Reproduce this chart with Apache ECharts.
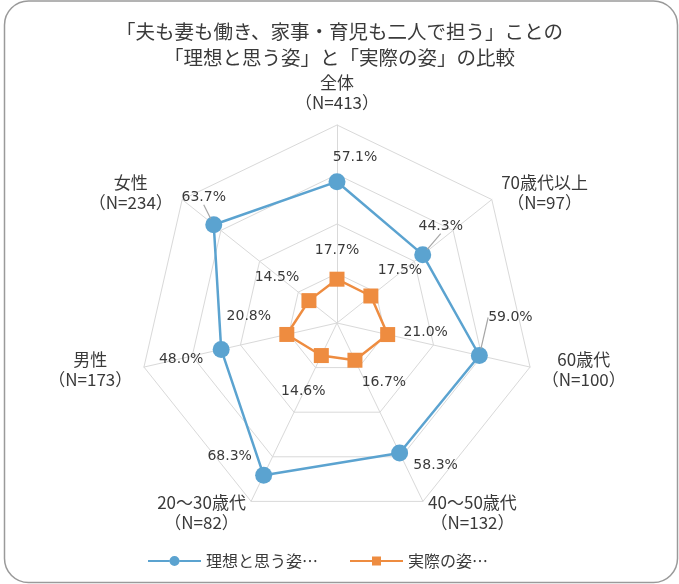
<!DOCTYPE html>
<html>
<head>
<meta charset="utf-8">
<script src="https://cdn.jsdelivr.net/npm/echarts@6/dist/echarts.min.js"></script>
<style>html,body{margin:0;padding:0;background:#fff;}#c{width:679px;height:584px;}</style>
</head>
<body>
<div id="c"></div>
<script>
// ---- data (clockwise from top) ----
const categories = ['全体\n（N=413）', '70歳代以上\n（N=97）', '60歳代\n（N=100）', '40～50歳代\n（N=132）', '20～30歳代\n（N=82）', '男性\n（N=173）', '女性\n（N=234）'];
const idealValues = [57.1, 44.3, 59.0, 58.3, 68.3, 48.0, 63.7];
const actualValues = [17.7, 17.5, 21.0, 16.7, 14.6, 20.8, 14.5];
const seriesNames = ['理想と思う姿…', '実際の姿…'];
const radarMax = 80;
const radarSplits = 4;
const titleText = '「夫も妻も働き、家事・育児も二人で担う」ことの\n「理想と思う姿」と「実際の姿」の比較';

// ---- styles ----
const blue = '#5BA3D0';
const orange = '#EE8C40';
const textColor = '#3a3a3a';
const center = [337, 323];
const radius = 198;
// label offsets (px) from each point, clockwise order
const idealLabelOffsets = [[18, -24], [18, -28], [31, -38], [36, 12], [-34, -19], [-40, 10], [-10, -27]];
const actualLabelOffsets = [[0, -29], [29, -26], [38, -2], [29, 22], [-18, 36], [-38, -18], [-32, -23]];
const idealLeader = [false, true, true, false, false, false, true];

// radar draws counter-clockwise: reorder so the picture reads clockwise
const ord = [0, 6, 5, 4, 3, 2, 1];

const chart = echarts.init(document.getElementById('c'));

function labelSeries(name, values, offsets, leaders) {
  return {
    name: name,
    type: 'scatter',
    coordinateSystem: 'polar',
    symbol: 'circle',
    symbolSize: 14,
    itemStyle: { color: 'rgba(0,0,0,0)', opacity: 1 },
    silent: true,
    z: 5,
    data: values.map((v, i) => ({
      value: [v, i],
      labelLine: { show: !!(leaders && leaders[i]) }
    })),
    label: {
      show: true,
      position: 'inside',
      formatter: p => p.value[0].toFixed(1) + '%',
      fontFamily: 'DejaVu Sans',
      fontSize: 14,
      color: textColor,
      opacity: 1
    },
    labelLine: { lineStyle: { color: '#a6a6a6', width: 1.2, opacity: 1 } },
    labelLayout: p => ({ dx: offsets[p.dataIndex][0], dy: offsets[p.dataIndex][1] })
  };
}

chart.setOption({
  backgroundColor: '#fff',
  animation: false,
  title: {
    text: titleText,
    left: 'center',
    top: 14,
    textStyle: { fontFamily: 'Noto Sans CJK JP', fontSize: 19.5, lineHeight: 26, fontWeight: 'normal', color: textColor }
  },
  graphic: [{
    type: 'rect',
    shape: { x: 4.5, y: 1, width: 673, height: 581.5, r: 24 },
    style: { fill: 'none', stroke: '#9a9a9a', lineWidth: 1.5 },
    silent: true, z: -10
  }],
  legend: {
    left: 143,
    top: 548,
    itemWidth: 53,
    itemHeight: 10,
    itemGap: 32,
    textStyle: { fontFamily: 'Noto Sans CJK JP', fontSize: 16, color: textColor },
    data: [
      { name: seriesNames[0], icon: 'path://M0,4.1h21.5v1.8h-21.5z M31.5,4.1h21.5v1.8h-21.5z M21.5,5a5,5 0 1,1 10,0a5,5 0 1,1 -10,0z' },
      { name: seriesNames[1], icon: 'path://M0,4.1h22v1.8h-22z M31,4.1h22v1.8h-22z M22,0.5h9v9h-9z' }
    ]
  },
  radar: {
    center: center,
    radius: radius,
    startAngle: 90,
    shape: 'polygon',
    splitNumber: radarSplits,
    nameGap: 12,
    indicator: ord.map(i => ({ name: categories[i], min: 0, max: radarMax })),
    axisName: {
      color: textColor,
      fontFamily: 'Noto Sans CJK JP',
      fontSize: 17,
      lineHeight: 20,
      formatter: n => n.split('\n').map(s => '{c|' + s + '}').join('\n'),
      rich: { c: { align: 'center', fontFamily: 'Noto Sans CJK JP', fontSize: 17, lineHeight: 20, color: textColor } }
    },
    splitLine: { lineStyle: { color: '#d9d9d9', width: 1 } },
    splitArea: { show: false },
    axisLine: { lineStyle: { color: '#d9d9d9', width: 1 } },
    axisTick: { show: false },
    axisLabel: { show: false }
  },
  polar: { center: center, radius: radius },
  angleAxis: {
    type: 'category', data: categories, startAngle: 90, clockwise: true, boundaryGap: false,
    axisLine: { show: false }, axisTick: { show: false }, axisLabel: { show: false }, splitLine: { show: false }
  },
  radiusAxis: {
    min: 0, max: radarMax,
    axisLine: { show: false }, axisTick: { show: false }, axisLabel: { show: false }, splitLine: { show: false }
  },
  series: [
    {
      name: seriesNames[0],
      type: 'radar',
      color: blue,
      symbol: 'circle',
      symbolSize: 17,
      itemStyle: { color: blue },
      lineStyle: { color: blue, width: 2.5 },
      data: [{ name: seriesNames[0], value: ord.map(i => idealValues[i]) }],
      z: 3
    },
    {
      name: seriesNames[1],
      type: 'radar',
      color: orange,
      symbol: 'rect',
      symbolSize: 15,
      itemStyle: { color: orange },
      lineStyle: { color: orange, width: 2.5 },
      data: [{ name: seriesNames[1], value: ord.map(i => actualValues[i]) }],
      z: 3
    },
    labelSeries('lblIdeal', idealValues, idealLabelOffsets, idealLeader),
    labelSeries('lblActual', actualValues, actualLabelOffsets, null)
  ]
});
</script>
</body>
</html>
